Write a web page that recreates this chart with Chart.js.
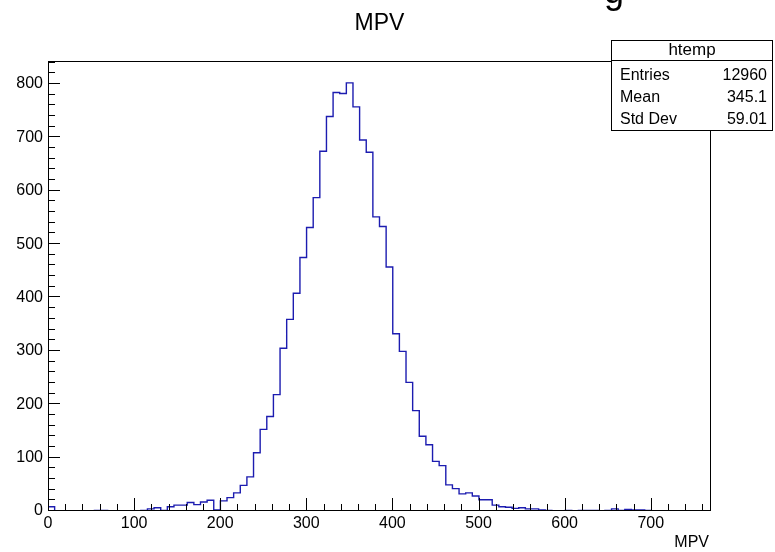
<!DOCTYPE html>
<html>
<head>
<meta charset="utf-8">
<script src="https://cdn.jsdelivr.net/npm/chart.js@4"></script>
<style>
  html, body { margin: 0; padding: 0; background: #fff; }
  #wrap { width: 775px; height: 552px; }
</style>
</head>
<body>
<div id="wrap"><canvas id="mpvChart" width="775" height="552"></canvas></div>
<script>
const histName = 'htemp';
const histTitle = 'MPV';
const xTitle = 'MPV';
const xMin = 0;
const xMax = 770;
const yMax = 843;

// 100 bins of 7.7 each, counts
const counts = [
  8, 0, 0, 0, 0, 0, 0, 1, 1, 0,
  0, 0, 0, 0, 1, 4, 6, 1, 8, 11,
  11, 16, 12, 17, 20, 2, 19, 25, 34, 48,
  64, 109, 153, 177, 218, 305, 359, 408, 475, 531,
  587, 674, 739, 784, 782, 802, 757, 695, 672, 551,
  533, 457, 332, 299, 241, 188, 140, 124, 93, 85,
  49, 42, 32, 34, 28, 21, 21, 11, 8, 7,
  5, 6, 4, 4, 2, 1, 0, 0, 1, 0,
  1, 1, 1, 0, 1, 4, 1, 3, 2, 2,
  1, 0, 0, 0, 0, 0, 0, 0, 0, 0
];

const xTicks = [0, 100, 200, 300, 400, 500, 600, 700];
const yTicks = [0, 100, 200, 300, 400, 500, 600, 700, 800];

const statLabels = ['Entries', 'Mean', 'Std Dev'];
const statValues = ['12960', '345.1', '59.01'];

const binWidth = (xMax - xMin) / counts.length;
const points = counts.map((c, i) => ({ x: xMin + i * binWidth, y: c }));
points.push({ x: xMax, y: counts[counts.length - 1] });

const FONT = 'Liberation Sans, Arial, sans-serif';

// ROOT style frame: inward ticks, box, stats panel, axis title
const rootFrame = {
  id: 'rootFrame',
  afterDatasetsDraw(chart) {
    const { ctx, chartArea: a, scales: { x, y } } = chart;
    ctx.save();
    ctx.strokeStyle = '#000';
    ctx.lineWidth = 1;

    ctx.strokeRect(a.left + 0.5, a.top + 0.5, a.right - a.left - 1, a.bottom - a.top - 1);

    ctx.beginPath();
    for (let v = xMin; v < xMax; v += 20) {
      const px = Math.round(x.getPixelForValue(v)) + 0.5;
      const len = v % 100 === 0 ? 13 : 7;
      ctx.moveTo(px, a.bottom);
      ctx.lineTo(px, a.bottom - len);
    }
    for (let v = 0; v < yMax; v += 20) {
      const py = Math.round(y.getPixelForValue(v)) - 0.5;
      const len = v % 100 === 0 ? 12 : 7;
      ctx.moveTo(a.left, py);
      ctx.lineTo(a.left + len, py);
    }
    ctx.stroke();

    // axis title
    ctx.fillStyle = '#000';
    ctx.font = '16px ' + FONT;
    ctx.textAlign = 'right';
    ctx.textBaseline = 'middle';
    ctx.fillText(xTitle, 709, 543);

    // stats box
    const bx = 611.5, by = 40.5, bw = 161, bh = 90;
    ctx.fillStyle = '#fff';
    ctx.fillRect(bx, by, bw, bh);
    ctx.strokeRect(bx, by, bw, bh);
    ctx.beginPath();
    ctx.moveTo(bx, 60.5);
    ctx.lineTo(bx + bw, 60.5);
    ctx.stroke();

    ctx.fillStyle = '#000';
    ctx.font = '17px ' + FONT;
    ctx.textAlign = 'center';
    ctx.fillText(histName, 692, 50);
    const rowY = [76, 98, 119.5];
    ctx.font = '16px ' + FONT;
    statLabels.forEach((lab, i) => {
      ctx.textAlign = 'left';
      ctx.fillText(lab, 620, rowY[i]);
      ctx.textAlign = 'right';
      ctx.fillText(statValues[i], 767, rowY[i]);
    });

    // cut-off text at the top edge
    ctx.font = '36px ' + FONT;
    ctx.textAlign = 'left';
    ctx.textBaseline = 'alphabetic';
    ctx.fillText('g', 604, 3);
    ctx.restore();
  }
};

new Chart(document.getElementById('mpvChart'), {
  type: 'line',
  data: {
    datasets: [{
      label: histName,
      data: points,
      stepped: 'before',
      borderColor: '#1c1cb0',
      borderWidth: 1.4,
      pointRadius: 0,
      fill: false
    }]
  },
  options: {
    responsive: false,
    animation: false,
    devicePixelRatio: 1,
    layout: { padding: { left: 0, right: 64, top: 0, bottom: 0 } },
    plugins: {
      legend: { display: false },
      tooltip: { enabled: false },
      title: {
        display: true,
        text: histTitle,
        fullSize: false,
        color: '#000',
        font: { family: FONT, size: 23, weight: 'normal' },
        padding: { top: 10, bottom: 23.4 }
      }
    },
    scales: {
      x: {
        type: 'linear',
        min: xMin,
        max: xMax,
        afterBuildTicks: s => { s.ticks = xTicks.map(v => ({ value: v })); },
        afterFit: s => { s.height = 41; },
        grid: { display: false, drawTicks: false },
        border: { display: false },
        ticks: {
          autoSkip: false, maxRotation: 0, padding: 3, color: '#000',
          font: { family: FONT, size: 16 },
          callback: v => String(v)
        }
      },
      y: {
        type: 'linear',
        min: 0,
        max: yMax,
        afterBuildTicks: s => { s.ticks = yTicks.map(v => ({ value: v })); },
        afterFit: s => { s.width = 48; },
        grid: { display: false, drawTicks: false },
        border: { display: false },
        ticks: {
          autoSkip: false, padding: 5, color: '#000',
          font: { family: FONT, size: 16 },
          callback: v => String(v)
        }
      }
    }
  },
  plugins: [rootFrame]
});
</script>
</body>
</html>
